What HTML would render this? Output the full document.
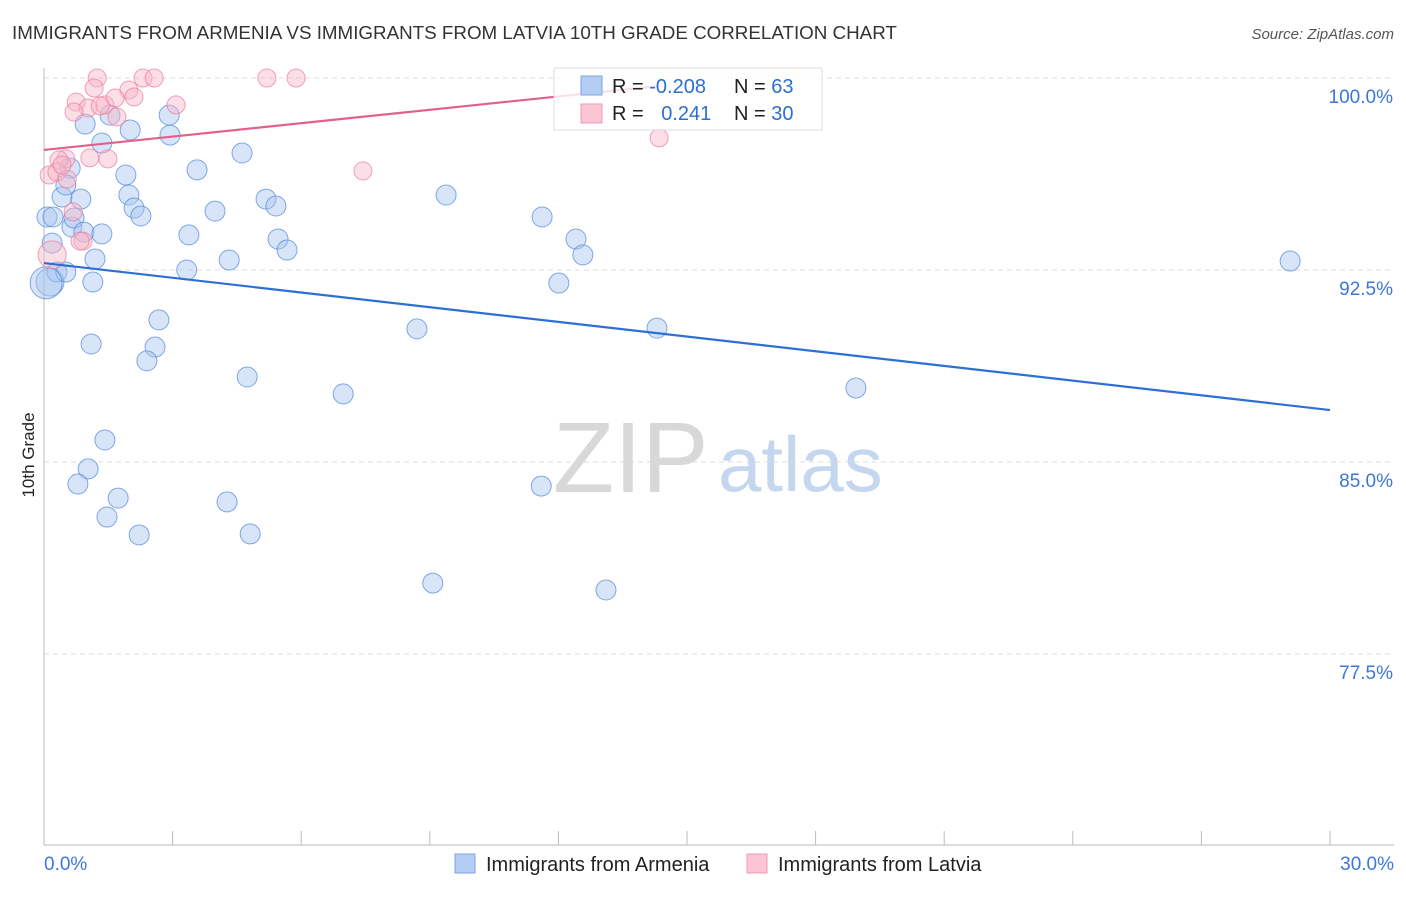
<!DOCTYPE html>
<html><head><meta charset="utf-8"><style>
body{margin:0;background:#fff;font-family:"Liberation Sans",sans-serif}
svg text{font-family:"Liberation Sans",sans-serif}
</style></head><body>
<svg id="c" width="1406" height="892">
<text x="12" y="39" font-size="18.8" fill="#333">IMMIGRANTS FROM ARMENIA VS IMMIGRANTS FROM LATVIA 10TH GRADE CORRELATION CHART</text>
<text x="1394" y="39" font-size="15" fill="#555" font-style="italic" text-anchor="end">Source: ZipAtlas.com</text>
<text x="34" y="455" font-size="17" fill="#222" text-anchor="middle" transform="rotate(-90 34 455)">10th Grade</text>
<text x="553" y="492" font-size="100" fill="#d8d8d8" font-family="Liberation Serif">ZIP</text>
<text x="718" y="491" font-size="78" fill="#c5d7ef">atlas</text>
<g id="grid"></g><g id="pts"></g><g id="lines"></g>
<g>
<rect x="554" y="68" width="268" height="62" fill="#fff" fill-opacity="0.8" stroke="#ddd"/>
<rect x="581" y="76" width="21" height="19" fill="#b3cdf3" stroke="#7ea6e0"/>
<rect x="581" y="104" width="21" height="19" fill="#fbc5d3" stroke="#f09ab3"/>
<text x="612" y="93" font-size="20" fill="#222">R = <tspan fill="#2d6fd0">-0.208</tspan></text>
<text x="734" y="93" font-size="20" fill="#222">N = <tspan fill="#2d6fd0">63</tspan></text>
<text x="612" y="120" font-size="20" fill="#222">R = <tspan fill="#2d6fd0" dx="12">0.241</tspan></text>
<text x="734" y="120" font-size="20" fill="#222">N = <tspan fill="#2d6fd0">30</tspan></text>
</g>
<g>
<rect x="455" y="854" width="20" height="19" fill="#b3cdf3" stroke="#7ea6e0"/>
<text x="486" y="871" font-size="20" fill="#222">Immigrants from Armenia</text>
<rect x="747" y="854" width="20" height="19" fill="#fbc5d3" stroke="#f09ab3"/>
<text x="778" y="871" font-size="20" fill="#222">Immigrants from Latvia</text>
</g>
</svg>
<script>
const yTicks=[100,92.5,85,77.5];
const xTickLabels=["0.0%","30.0%"];
const armeniaX=[0.14,0.07,0.21,0.19,0.3,0.51,0.61,0.42,0.51,0.86,0.65,0.7,0.93,1.35,1.19,1.14,0.96,1.54,2.01,1.35,1.91,1.98,2.1,2.26,2.92,2.94,3.57,3.99,3.38,3.33,4.32,4.62,5.18,5.41,5.46,5.67,2.68,1.1,2.59,2.4,4.74,6.98,8.7,9.38,11.62,12.41,12.57,12.01,14.3,18.94,29.07,1.42,1.03,0.79,1.73,1.47,2.22,4.27,4.81,11.6,9.07,13.11,0.05];
const armeniaY=[92.03,94.57,94.57,93.55,92.42,92.42,96.48,95.35,95.82,95.27,94.18,94.53,93.98,93.91,92.93,92.03,98.2,98.55,97.97,97.46,96.21,95.43,94.92,94.61,98.55,97.77,96.41,94.8,93.87,92.5,92.89,97.07,95.27,95.0,93.71,93.28,90.55,89.61,89.49,88.95,88.32,87.66,90.2,95.43,94.57,93.71,93.09,91.99,90.23,87.89,92.85,85.86,84.73,84.14,83.59,82.85,82.15,83.44,82.19,84.06,80.27,80.0,92.0];
const latviaX=[1.24,2.31,2.57,5.2,5.88,1.17,0.75,1.42,1.98,2.1,1.66,1.03,0.7,3.08,0.51,0.35,1.07,1.49,0.12,0.3,0.54,0.68,0.91,0.84,0.19,7.44,14.35,1.7,1.31,0.42];
const latviaY=[100,100,100,100,100,99.61,99.06,98.95,99.53,99.26,99.22,98.83,98.67,98.95,96.84,96.8,96.88,96.84,96.21,96.33,96.05,94.77,93.63,93.63,93.09,96.37,97.66,98.48,98.91,96.6];
const armR=[14,10,10,10,10,10,10,10,10,10,10,10,10,10,10,10,10,10,10,10,10,10,10,10,10,10,10,10,10,10,10,10,10,10,10,10,10,10,10,10,10,10,10,10,10,10,10,10,10,10,10,10,10,10,10,10,10,10,10,10,10,10,16];
const armeniaTrendX=[0,30], armeniaTrendY=[92.77,87.03];
const latviaTrendX=[0,14.3], latviaTrendY=[97.19,99.68];
const X0=44,X1=1330,Y100=78,PX=192/7.5;
const sx=v=>X0+v/30*(X1-X0), sy=v=>Y100+(100-v)*PX;
const NS="http://www.w3.org/2000/svg";
function mk(t,a,p){const e=document.createElementNS(NS,t);for(const k in a)e.setAttribute(k,a[k]);p.appendChild(e);return e;}
const g=document.getElementById('grid');
yTicks.forEach(t=>{
 const l=mk('line',{x1:44,x2:1394,y1:sy(t),y2:sy(t),stroke:'#ddd','stroke-dasharray':'5,4'},g);
 
 
 const tx=mk('text',{x:1393,y:sy(t)+25,'font-size':19,fill:'#3b78d8','text-anchor':'end'},g);
 tx.textContent=t.toFixed(1)+'%';
 
 
});
mk('line',{x1:44,x2:44,y1:68,y2:845,stroke:'#bbb'},g);
const xa=mk('line',{x1:44,x2:1394,y1:845,y2:845,stroke:'#bbb'},g);


for(let i=0;i<=10;i++){const tk=mk('line',{x1:sx(i*3),x2:sx(i*3),y1:831,y2:845,stroke:'#bbb'},g);
 
 }
[[44,'start',0],[1394,'end',1]].forEach(([x,a,i])=>{const t=mk('text',{x:x,y:870,'font-size':19,fill:'#3b78d8','text-anchor':a},g);t.textContent=xTickLabels[i];
 
 });
const p=document.getElementById('pts');
armeniaX.forEach((v,i)=>{const e=mk('circle',{cx:sx(v),cy:sy(armeniaY[i]),r:armR[i],fill:'#a9c6f0','fill-opacity':0.45,stroke:'#4f86d8','stroke-opacity':0.7},p);
 
 });
latviaX.forEach((v,i)=>{const e=mk('circle',{cx:sx(v),cy:sy(latviaY[i]),r:i==24?14:9,fill:'#f7b5c8','fill-opacity':0.45,stroke:'#ec7a9c','stroke-opacity':0.7},p);
 
 });
const L=document.getElementById('lines');
const t1=mk('line',{x1:sx(armeniaTrendX[0]),y1:sy(armeniaTrendY[0]),x2:sx(armeniaTrendX[1]),y2:sy(armeniaTrendY[1]),stroke:'#2e6fd6','stroke-width':2.2},L);


const t2=mk('line',{x1:sx(latviaTrendX[0]),y1:sy(latviaTrendY[0]),x2:sx(latviaTrendX[1]),y2:sy(latviaTrendY[1]),stroke:'#e2608a','stroke-width':2.2},L);


</script>
</body></html>
